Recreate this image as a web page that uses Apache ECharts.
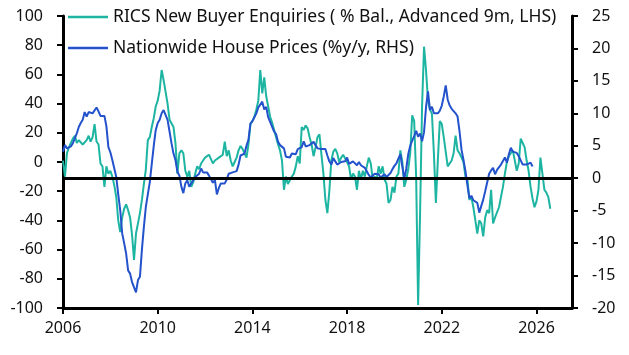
<!DOCTYPE html>
<html><head><meta charset="utf-8">
<script src="https://cdn.jsdelivr.net/npm/echarts@6/dist/echarts.min.js"></script>
<style>html,body{margin:0;padding:0;background:#fff}#c{width:629px;height:355px}</style>
</head><body><div id="c"></div>
<script>
const startYear = 2006; // first month of both series: Jan 2006
const xTicks = [2006, 2010, 2014, 2018, 2022, 2026];
const ricsName = 'RICS New Buyer Enquiries ( % Bal., Advanced 9m, LHS)';
const nwName = 'Nationwide House Prices (%y/y, RHS)';

// RICS new buyer enquiries, % balance, advanced 9 months (monthly from Jan 2006)
const rics = [
  1, -10, 6, 10, 13, 16, 18, 13, 15, 14, 12, 13,
  15, 18, 14, 17, 26, 14, 12, -1, -3, -17, -3, -8,
  -6, -10, -16, -24, -40, -48, -38, -32, -29, -33, -38, -50,
  -67, -49, -42, -35, -26, -15, -5, 15, 17, 24, 30, 38,
  42, 49, 63, 56, 48, 40, 29, 28, 24, 13, -8, 6,
  8, 6, -6, -10, -6, -17, -14, -8, -3, -5, -1, 1,
  3, 4, 5, 2, -1, 1, 2, 3, 4, 5, 14, 4,
  8, 1, -3, 0, 3, 8, 11, 9, 8, 3, 12, 26,
  28, 31, 36, 42, 63, 47, 58, 45, 38, 31, 27, 22,
  17, 12, 8, 1, -19, -10, -15, -14, -10, -8, -3, 4,
  -1, 24, 22, 25, 23, 17, 12, 4, 10, 17, 19, 5,
  -8, -26, -35, -20, 1, 7, 9, 6, 0, 3, 5, 6,
  0, -3, -12, -8, -10, -19, -6, -12, -6, -10, -3, 3,
  -1, -12, -10, -12, -3, -8, -3, -12, -15, -28, -26, -17,
  -21, -10, -8, 8, 0, -17, -12, -5, 6, 32, 28, -10,
  -98, -35, 38, 79, 63, 42, 36, 33, 6, -28, 1, 28,
  26, 17, 7, -3, -3, 1, 6, 18, 8, 6, 3, 0,
  -10, -12, -26, -24, -31, -40, -49, -40, -42, -51, -38, -33,
  -35, -19, -42, -38, -38, -31, -24, -17, -8, 0, 4, 6,
  8, 1, -6, -1, 16, 13, 10, 1, -6, -17, -25, -31,
  -27, -19, 3, -8, -19, -21, -24, -32
];

// Nationwide house prices, % y/y (monthly from Jan 2006)
const nationwide = [
  4.1, 5.1, 4.6, 4.4, 4.9, 5.4, 5.6, 6.9, 7.9, 8.5, 9.0, 10.2,
  9.5, 10.2, 9.9, 10.0, 9.9, 10.9, 10.3, 9.6, 9.5, 9.6, 8.0, 4.8,
  4.0, 2.8, 1.5, 0.2, -2.5, -4.9, -8.5, -10.0, -11.6, -14.2, -14.7, -16.0,
  -16.2, -17.6, -15.7, -15.2, -11.0, -7.5, -4.4, -2.5, -0.6, 2.2, 5.0, 7.4,
  8.5, 9.0, 10.0, 10.5, 10.2, 9.0, 7.2, 5.4, 3.8, 2.8, 1.0, 0.4,
  -1.3, -2.3, -0.8, -0.3, -1.3, -0.8, -0.6, 0.2, 0.3, 0.7, 1.5, 0.9,
  0.6, 0.9, 0.4, 0.2, -0.7, -0.3, -2.5, -1.5, -0.8, -0.9, -0.8, -0.2,
  0.7, 0.5, 0.9, 0.8, 1.1, 2.1, 3.5, 3.8, 3.8, 5.0, 5.9, 8.4,
  8.8, 9.4, 10.0, 10.9, 11.1, 11.8, 10.6, 11.0, 9.4, 9.4, 7.9, 7.2,
  6.8, 5.6, 5.1, 5.2, 4.6, 3.3, 3.5, 3.2, 3.8, 3.9, 3.7, 4.5,
  4.4, 4.8, 5.7, 4.9, 4.7, 5.1, 5.2, 5.6, 5.3, 4.6, 4.4, 4.5,
  4.3, 4.5, 3.5, 2.6, 2.1, 3.1, 2.9, 2.1, 2.0, 2.5, 2.5, 2.6,
  3.2, 2.2, 2.1, 2.6, 2.4, 2.0, 2.5, 2.0, 2.0, 1.6, 1.9, 0.5,
  0.1, 0.4, 0.7, 0.9, 0.6, 0.1, 0.3, 0.6, 0.2, 0.4, 0.8, 1.4,
  1.9, 2.3, 3.0, 3.7, 1.8, -0.1, 1.5, 3.7, 5.0, 5.8, 6.5, 7.3,
  6.4, 6.9, 5.7, 7.1, 10.9, 13.4, 10.5, 11.0, 10.0, 9.9, 10.0, 10.4,
  11.2, 12.6, 14.3, 12.1, 11.2, 10.7, 11.0, 10.0, 9.5, 7.2, 4.4, 2.8,
  1.1, -1.1, -3.1, -2.7, -3.4, -3.5, -3.8, -5.3, -5.3, -3.3, -2.0, -1.8,
  0.7, 1.2, 1.6, 0.6, 1.3, 1.5, 2.1, 2.4, 3.2, 2.4, 3.7, 4.7,
  4.1, 3.9, 3.9, 3.4, 3.5, 2.1, 2.4, 2.1, 2.2, 2.4, 1.8
];

function monthly(arr) { return arr.map((v, i) => [startYear + i / 12, v]); }

const FONT = 'Noto Sans';
const GREEN = '#1db5a2';
const BLUE = '#2352cc';

const chart = echarts.init(document.getElementById('c'), null, { renderer: 'canvas' });
chart.setOption({
  animation: false,
  backgroundColor: '#fff',
  textStyle: { fontFamily: FONT },
  grid: { left: 63, right: 57, top: 16, bottom: 47, containLabel: false },
  legend: {
    orient: 'vertical', left: 63, top: 2, itemGap: 11,
    icon: 'rect', itemWidth: 40, itemHeight: 2.5,
    textStyle: { fontFamily: FONT, fontSize: 17.5, color: '#111', lineHeight: 20, padding: [0, 0, 0, 0] },
    data: [ricsName, nwName]
  },
  xAxis: {
    type: 'value', min: 2006, max: 2027.5,
    axisLine: { onZero: false, lineStyle: { color: '#000', width: 3 } },
    axisTick: { show: true, inside: false, length: 6, lineStyle: { color: '#000', width: 2 }, customValues: xTicks },
    axisLabel: { customValues: xTicks, fontFamily: FONT, fontSize: 16, color: '#111', margin: 12, formatter: v => String(Math.round(v)) },
    splitLine: { show: false }
  },
  yAxis: [
    {
      type: 'value', min: -100, max: 100, interval: 20, position: 'left',
      axisLine: { show: true, lineStyle: { color: '#000', width: 3 } },
      axisTick: { show: true, length: 6, lineStyle: { color: '#000', width: 2 } },
      axisLabel: { fontFamily: FONT, fontSize: 16, color: '#111', margin: 20 },
      splitLine: { show: false }
    },
    {
      type: 'value', min: -20, max: 25, interval: 5, position: 'right',
      axisLine: { show: true, lineStyle: { color: '#000', width: 3 } },
      axisTick: { show: true, length: 6, lineStyle: { color: '#000', width: 2 } },
      axisLabel: { fontFamily: FONT, fontSize: 16, color: '#111', margin: 20 },
      splitLine: { show: false }
    }
  ],
  series: [
    {
      name: ricsName, type: 'line', yAxisIndex: 0, data: monthly(rics),
      showSymbol: false, symbol: 'none', lineStyle: { color: GREEN, width: 2 }, itemStyle: { color: GREEN }
    },
    {
      name: nwName, type: 'line', yAxisIndex: 1, data: monthly(nationwide),
      showSymbol: false, symbol: 'none', lineStyle: { color: BLUE, width: 2 }, itemStyle: { color: BLUE },
      markLine: {
        silent: true, symbol: 'none', label: { show: false },
        lineStyle: { color: '#000', width: 3, type: 'solid' },
        data: [{ yAxis: 0 }]
      }
    }
  ]
});
</script></body></html>
